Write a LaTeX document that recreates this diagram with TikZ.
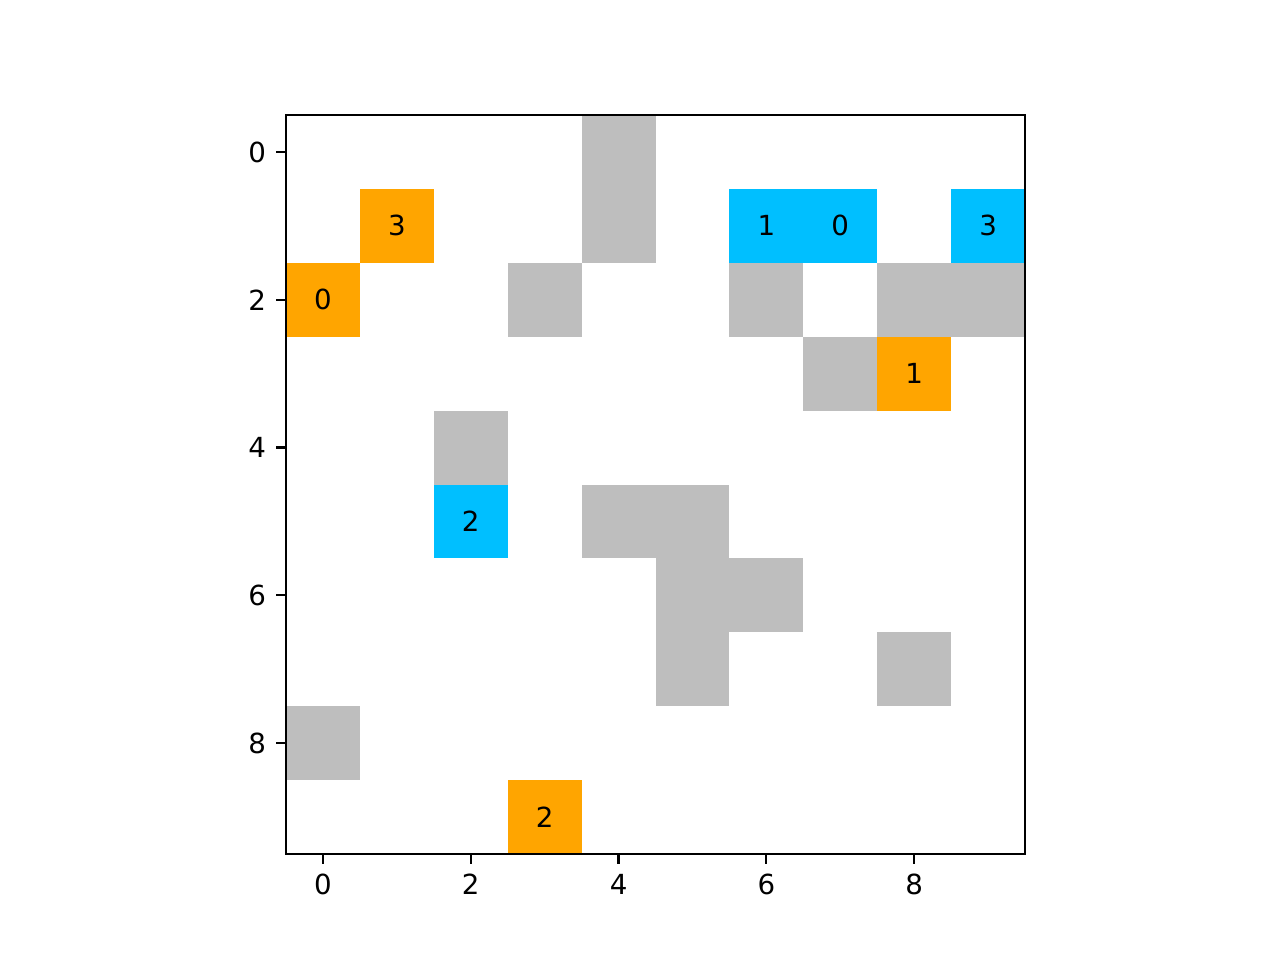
\documentclass[tikz,border=0pt]{standalone}
\usepackage{fontspec}
\setmainfont{DejaVu Sans}
\usetikzlibrary{positioning}
\definecolor{cgray}{RGB}{190,190,190}
\definecolor{corange}{RGB}{255,165,0}
\definecolor{cblue}{RGB}{0,191,255}
\begin{document}
\begin{tikzpicture}[
	  x=9.3853mm,y=-9.3853mm,
	  cell/.style={minimum size=9.3853mm,inner sep=0pt,outer sep=0pt,font=\fontsize{10}{12}\selectfont},
	  tick/.style={line width=0.8pt},
	  ticklabel/.style={inner sep=0pt,font=\fontsize{10}{12}\selectfont}
	]
		\useasboundingbox (-36.322mm,14.605mm) rectangle (126.238mm,-107.315mm);
		% walls
		\foreach \r/\c in {0/4,1/4,2/3,2/6,2/8,2/9,3/7,4/2,5/4,5/5,6/5,6/6,7/5,7/8,8/0}
			\node [cell,fill=cgray] (w-\r-\c) at (\c+0.5,\r+0.5) {};
		% orange agents
		\foreach \r/\c/\n in {1/1/3,2/0/0,3/8/1,9/3/2}
			\node [cell,fill=corange] (a-\r-\c) at (\c+0.5,\r+0.5) {\n};
		% blue goals
		\foreach \r/\c/\n in {1/6/1,1/7/0,1/9/3,5/2/2}
			\node [cell,fill=cblue] (g-\r-\c) at (\c+0.5,\r+0.5) {\n};
		\draw [line width=0.8pt] (0,0) rectangle (10,10);
		\foreach \t in {0,2,...,8} {
			\draw [tick] (\t+0.5,10) -- ++(0,-3.5pt);
			\node [ticklabel,anchor=north] (xl-\t) at ([yshift=-7pt]\t+0.5,10) {\t};
			\draw [tick] (0,\t+0.5) -- ++(-3.5pt,0);
			\node [ticklabel,anchor=east] (yl-\t) at ([xshift=-7pt]0,\t+0.5) {\t};
		}
	\end{tikzpicture}
\end{document}
